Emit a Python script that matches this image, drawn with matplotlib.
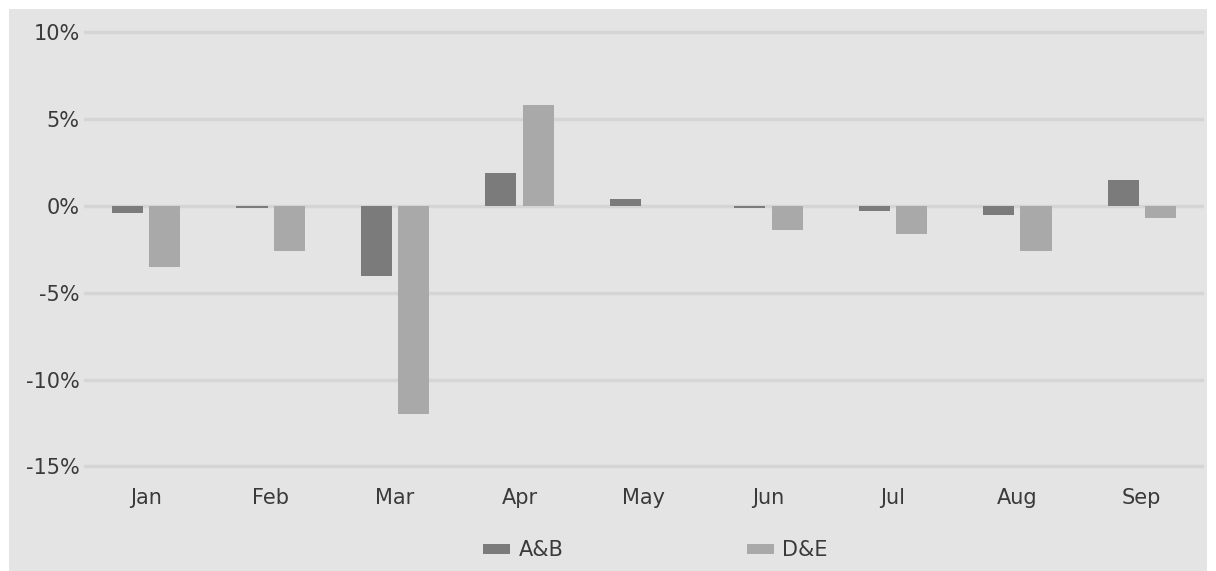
import numpy as np
import matplotlib.pyplot as plt
from matplotlib.patches import Rectangle

months = ["Jan", "Feb", "Mar", "Apr", "May", "Jun", "Jul", "Aug", "Sep"]
ab = [-0.4, -0.1, -4.0, 1.9, 0.4, -0.1, -0.3, -0.5, 1.5]
de = [-3.5, -2.6, -12.0, 5.8, 0.0, -1.4, -1.6, -2.6, -0.7]
yticks = [-15, -10, -5, 0, 5, 10]

bg = "#e4e4e4"
txt = "#3a3a3a"

fig = plt.figure(figsize=(12.16, 5.71), dpi=100, facecolor="white")
fig.patches.append(Rectangle((9 / 1216, 0), 1 - 18 / 1216, 1 - 9 / 571,
                             transform=fig.transFigure, facecolor=bg,
                             edgecolor="none", zorder=-10))

ax = fig.add_axes([84 / 1216, 100 / 571, 1120 / 1216, 441 / 571])
ax.set_facecolor(bg)
ax.patch.set_alpha(0)

x = np.arange(len(months))
w = 0.25
ax.bar(x - 0.15, ab, w, color="#7b7b7b", label="A&B", zorder=3)
ax.bar(x + 0.15, de, w, color="#a9a9a9", label="D&E", zorder=3)

ax.set_xlim(-0.5, len(months) - 0.5)
ax.set_ylim(-15.26, 10.14)
ax.set_yticks(yticks)
ax.set_yticklabels([f"{v}%" for v in yticks])
ax.set_xticks(x)
ax.set_xticklabels(months)
ax.grid(axis="y", color="#d5d5d5", linewidth=2.5, zorder=0)
ax.tick_params(length=0, labelsize=15, labelcolor=txt)
ax.tick_params(axis="y", pad=3)
ax.tick_params(axis="x", pad=12)
for s in ax.spines.values():
    s.set_visible(False)

ax.legend(loc="upper center", bbox_to_anchor=(0.51, -0.115), ncol=2,
          frameon=False, fontsize=15, labelcolor=txt, handlelength=1.3,
          handleheight=0.35, columnspacing=8.8, handletextpad=0.4)

fig.savefig("out.png", dpi=100, facecolor="white")
